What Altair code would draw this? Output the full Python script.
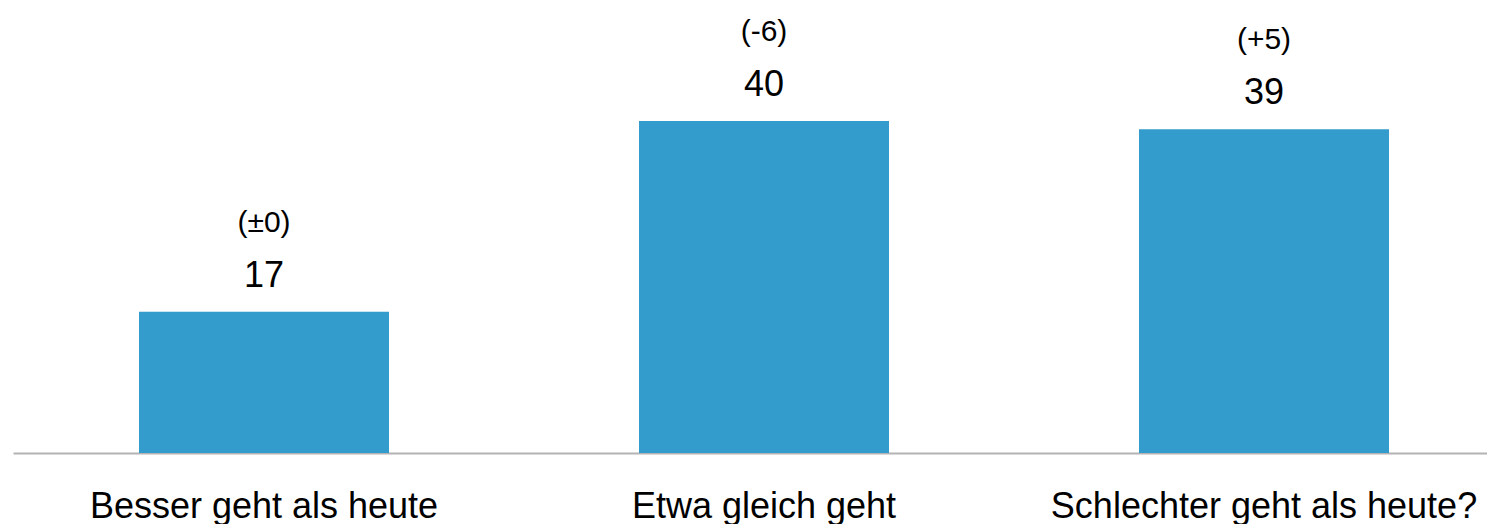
import altair as alt
import pandas as pd

categories = ["Besser geht als heute", "Etwa gleich geht", "Schlechter geht als heute?"]
values = [17, 40, 39]
changes = ["(±0)", "(-6)", "(+5)"]

df = pd.DataFrame({"cat": categories, "val": values, "chg": changes})

FONT = "Liberation Sans"
BAR_COLOR = "#339ccc"

x = alt.X(
    "cat:N",
    sort=categories,
    scale=alt.Scale(paddingInner=0.5, paddingOuter=0.224, align=0.5625),
    axis=alt.Axis(
        title=None,
        labelAngle=0,
        labelFont=FONT,
        labelFontSize=36,
        labelColor="#000000",
        labelBaseline="alphabetic",
        labelPadding=64,
        labelLimit=2000,
        ticks=False,
        tickSize=0,
        domainColor="#b3b3b3",
        domainWidth=2,
        grid=False,
    ),
)
y = alt.Y("val:Q", scale=alt.Scale(domain=[0, 53], nice=False, zero=True), axis=None)

bars = alt.Chart(df).mark_bar(color=BAR_COLOR).encode(x=x, y=y)

vals = alt.Chart(df).mark_text(
    font=FONT, fontSize=36, color="#000000", baseline="alphabetic", dy=-25
).encode(x=x, y=y, text=alt.Text("val:Q"))

chg = alt.Chart(df).mark_text(
    font=FONT, fontSize=30, color="#000000", baseline="alphabetic", dy=-80
).encode(x=x, y=y, text=alt.Text("chg:N"))

chart = (
    alt.layer(bars, vals, chg)
    .properties(
        width=1474,
        height=440,
        padding={"left": 5, "top": 5, "right": 0, "bottom": 71},
        autosize=alt.AutoSizeParams(type="none"),
        background="#ffffff",
    )
    .configure_view(stroke=None, strokeWidth=0)
)

chart.save("out.html", embed_options={"renderer": "svg", "actions": False})
